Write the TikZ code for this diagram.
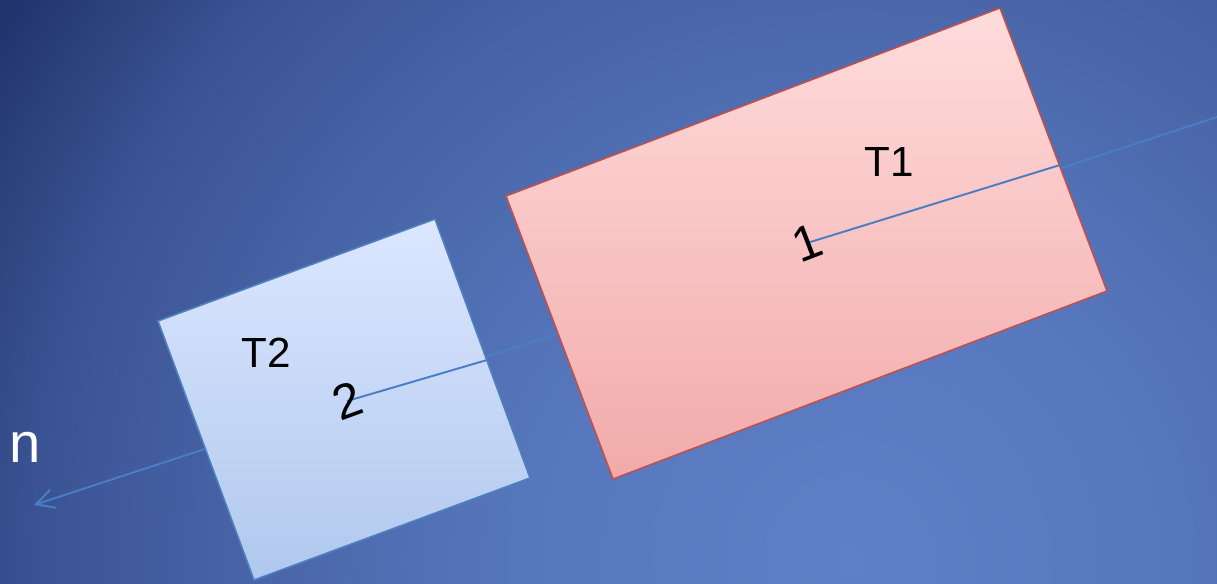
\documentclass[tikz,border=0pt]{standalone}
\usepackage{fontspec}
\setmainfont{Liberation Sans}
\usetikzlibrary{arrows.meta}
\tikzset{>={Straight Barb[length=3.6mm,width=3.8mm]}}
\definecolor{bgdark}{HTML}{22346E}
\definecolor{bglight}{HTML}{5E80C8}
\definecolor{mypinktop}{HTML}{FFDCDC}
\definecolor{mypinkbot}{HTML}{F2AAAA}
\definecolor{mydarkred}{HTML}{C0504D}
\definecolor{mybluetop}{HTML}{DCE7FF}
\definecolor{mybluebot}{HTML}{B0C8EE}
\definecolor{myblue}{HTML}{4F81BD}
\definecolor{axisblue}{HTML}{4A7EC4}
\pgfdeclareradialshading{bgglow}{\pgfpoint{0bp}{0bp}}{color(0bp)=(bglight); color(8bp)=(bglight!88!bgdark); color(16bp)=(bglight!60!bgdark); color(20.5bp)=(bglight!40!bgdark); color(25bp)=(bgdark); color(50bp)=(bgdark)}

\begin{document}
\begin{tikzpicture}[x=0.02cm, y=-0.02cm]

    \def\W{1217};
    \def\H{583};
    % background
    \fill[bgdark] (0,0) rectangle (\W,\H);
    \begin{scope}
        \clip (0,0) rectangle (\W,\H);
        \shade[shading=bgglow] (850,560) circle (1000);
    \end{scope}
    \useasboundingbox (0,0) rectangle (\W,\H);

    \coordinate (nTip) at (34,505);
    \coordinate (axisEnd) at (\W,117);
    \coordinate (edgeOne) at (1060,165);
    \coordinate (edgeTwo) at (487,360);
    \coordinate (cOne) at (807,243);
    \coordinate (cTwo) at (347,401);

    \draw[axisblue, line width=1.1pt, ->] (axisEnd) -- (nTip);

    \shade[top color=mypinktop, bottom color=mypinkbot, draw=mydarkred, line width=0.9pt] (506,196) -- (1000,8) -- (1107,291) -- (613,479) -- cycle;
    \shade[top color=mybluetop, bottom color=mybluebot, draw=myblue, line width=0.9pt] (158,321) -- (435,219) -- (530,478) -- (254,580) -- cycle;

    \draw[axisblue, line width=1.1pt] (cOne) -- (edgeOne);
    \draw[axisblue, line width=1.1pt] (cTwo) -- (edgeTwo);

    \node[font=\fontsize{24}{28}\selectfont] (tOne) at (889,162) {T1};
    \node[font=\fontsize{24}{28}\selectfont] (tTwo) at (266,353) {T2};
    \node[font=\fontsize{28}{32}\selectfont, rotate=21] (one) at (cOne) {1};
    \node[font=\fontsize{28}{32}\selectfont, rotate=20] (two) at (cTwo) {2};
    \node[white, font=\fontsize{32}{36}\selectfont] (nLabel) at (25,447) {n};

\end{tikzpicture}
\end{document}
